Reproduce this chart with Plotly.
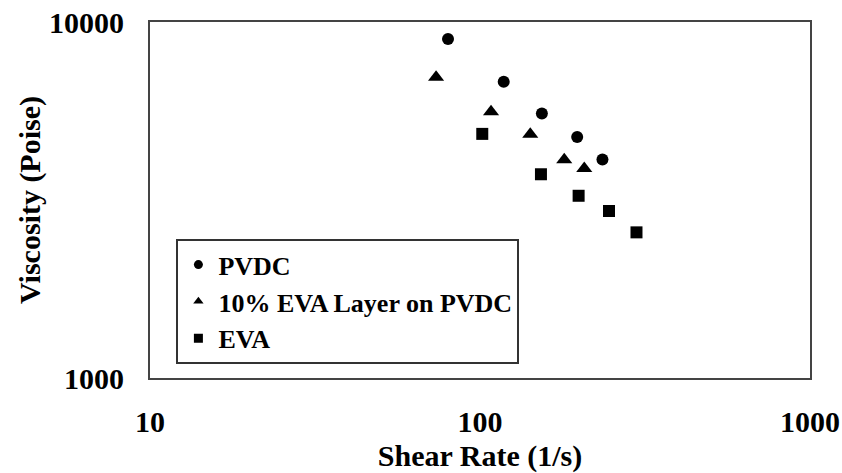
import plotly.graph_objects as go

# Data
pvdc_x = [80, 118, 154, 197, 235]
pvdc_y = [8960, 6790, 5530, 4750, 4110]

layer_x = [73.6, 108, 142, 180, 207]
layer_y = [7000, 5600, 4840, 4100, 3880]

eva_x = [101.6, 153, 199, 246, 298]
eva_y = [4850, 3735, 3250, 2945, 2565]

series_names = ["PVDC", "10% EVA Layer on PVDC", "EVA"]
x_ticks = [10, 100, 1000]
x_tick_labels = ["10", "100", "1000"]
y_ticks = [1000, 10000]
y_tick_labels = ["1000", "10000"]

FONT = "Liberation Serif"

fig = go.Figure()
series = [(pvdc_x, pvdc_y, "circle", 12), (layer_x, layer_y, "triangle-up", 14), (eva_x, eva_y, "square", 12)]
for (xs, ys, sym, sz), name in zip(series, series_names):
    fig.add_trace(go.Scatter(x=xs, y=ys, mode="markers", name=name, showlegend=False,
                             marker=dict(symbol=sym, size=sz, color="black")))
    # legend entry with smaller marker
    fig.add_trace(go.Scatter(x=[None], y=[None], mode="markers", name="<b>" + name + "</b>",
                             marker=dict(symbol=sym, size=9, color="black")))

fig.update_layout(
    width=842, height=473,
    margin=dict(l=150, r=32, t=22, b=95),
    paper_bgcolor="white", plot_bgcolor="white",
    font=dict(family=FONT, color="black", size=28),
    showlegend=True,
    legend=dict(x=0.04, y=0.39, xanchor="left", yanchor="top",
                bordercolor="#333", borderwidth=2, bgcolor="white",
                font=dict(family=FONT, size=26, color="black"),
                tracegroupgap=0, itemwidth=30),
)
fig.update_xaxes(type="log", range=[1, 3], tickvals=x_ticks, ticktext=["<b>%s</b>" % t for t in x_tick_labels],
                 showgrid=False, zeroline=False, showline=True, linecolor="#444", linewidth=2, mirror=True,
                 automargin=False, ticklabeloverflow="allow",
                 ticks="", ticklabelstandoff=16, tickfont=dict(family=FONT, size=30, color="black"),
                 title=dict(text="<b>Shear Rate (1/s)</b>", font=dict(family=FONT, size=30, color="black"), standoff=16))
fig.update_yaxes(type="log", range=[3, 4], tickvals=y_ticks, ticktext=["<b>%s</b>" % t for t in y_tick_labels],
                 showgrid=False, zeroline=False, showline=True, linecolor="#444", linewidth=2, mirror=True,
                 automargin=False, ticklabeloverflow="allow",
                 ticks="", ticklabelstandoff=18, tickfont=dict(family=FONT, size=30, color="black"),
                 title=dict(text="<b>Viscosity (Poise)</b>", font=dict(family=FONT, size=30, color="black"), standoff=0))

fig.write_html("out.html", config={"displayModeBar": False},
               post_script="document.body.style.margin='0';")
